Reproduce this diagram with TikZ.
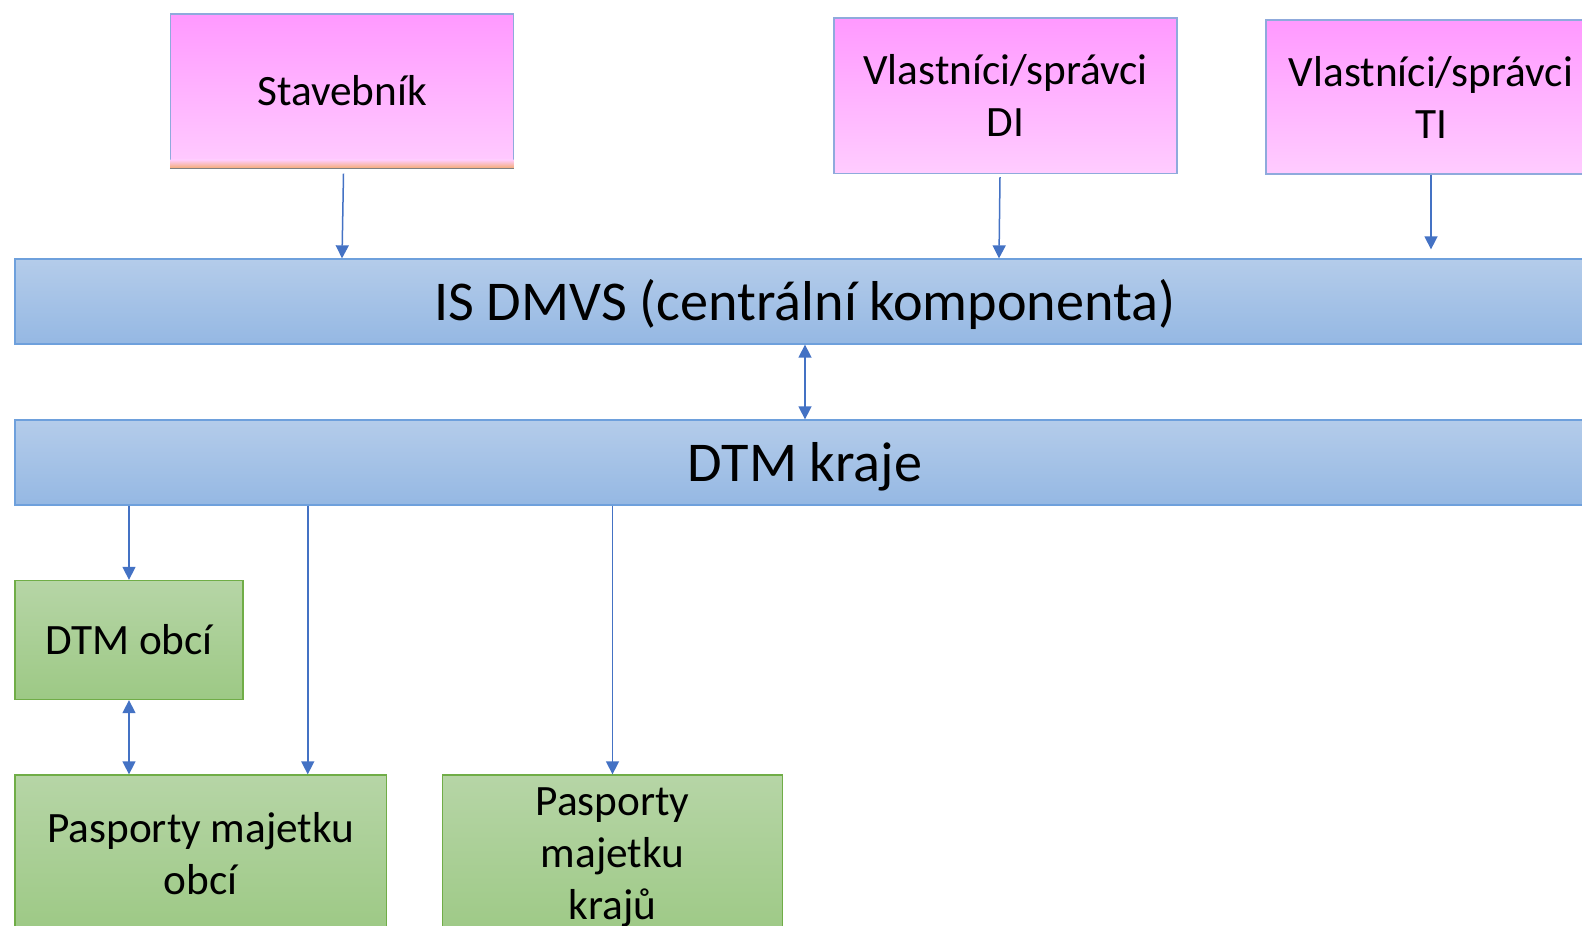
\documentclass[tikz,border=0pt]{standalone}
\usepackage{fontspec}
\setmainfont{Carlito}
\usetikzlibrary{arrows.meta}

\definecolor{pinktop}{RGB}{255,153,255}
\definecolor{pinkbot}{RGB}{255,204,255}
\definecolor{stavorange}{RGB}{244,170,110}
\definecolor{pinkline}{RGB}{143,170,220}
\definecolor{bartop}{RGB}{180,204,234}
\definecolor{barbot}{RGB}{149,184,227}
\definecolor{barline}{RGB}{110,160,220}
\definecolor{greentop}{RGB}{182,213,166}
\definecolor{greenbot}{RGB}{157,201,133}
\definecolor{greenline}{RGB}{112,173,71}
\definecolor{arrowblue}{RGB}{68,114,196}

\begin{document}
\begin{tikzpicture}
      [
        x=1pt, y=-1pt,
        pinkbox/.style={draw=pinkline, line width=1.3pt, top color=pinktop,
          bottom color=pinkbot, minimum width=343pt, minimum height=154pt,
          inner sep=0pt, align=center, font=\fontsize{43.3}{52}\selectfont},
        bluebar/.style={draw=barline, line width=1.3pt, top color=bartop,
          bottom color=barbot, minimum width=1580pt, minimum height=85pt,
          inner sep=0pt, text height=52pt, text depth=14pt,
          font=\fontsize{56.2}{67}\selectfont},
        greenbox/.style={draw=greenline, line width=1.3pt, top color=greentop,
          bottom color=greenbot, inner sep=0pt, align=center,
          font=\fontsize{43.3}{52}\selectfont},
        link/.style={draw=arrowblue, line width=1.5pt,
          -{Triangle[width=13pt,length=13pt]}},
        bothlink/.style={link, {Triangle[width=13pt,length=13pt]}-{Triangle[width=13pt,length=13pt]}}
      ]
      \useasboundingbox (0,0) rectangle (1582,926);
      \clip (0,0) rectangle (1582,926);
      % sources
      \node [pinkbox] (stav) at (342,91)  {Stavebník};
      \fill [top color=pinkbot, bottom color=stavorange]
        ([xshift=0.7pt,yshift=9pt]stav.south west) rectangle ([xshift=-0.7pt]stav.south east);
      \draw [gray, line width=1.3pt] (stav.south west) -- (stav.south east);
      \node [pinkbox, minimum height=155.5pt] (vdi) at (1005.5,95.75) {Vlastníci/správci\\DI};
      \node [pinkbox, minimum width=330pt] (vti) at (1431,97) {Vlastníci/správci\\TI};
      % bars
      \node [bluebar] (dmvs)  at (805,301.5) {IS DMVS (centrální komponenta)};
      \node [bluebar] (kraje) at (805,462.5) {DTM kraje};
      % lower boxes
      \node [greenbox, minimum width=228pt, minimum height=119pt] (dtmobci) at (129,640) {DTM obcí};
      \node [greenbox, minimum width=371.5pt, minimum height=157pt] (pasobci) at (200.75,853.5)
        {Pasporty majetku\\obcí};
      \node [greenbox, minimum width=339.5pt, minimum height=165pt] (paskraje) at (612.5,857.5)
        {Pasporty\\majetku\\krajů};
      \coordinate (dropobci) at ([xshift=107pt]pasobci.north);
      % arrows
      \draw [link] ([xshift=1.5pt,yshift=-5pt]stav.south) -- (stav.south |- dmvs.north);
      \draw [link] ([xshift=-5.5pt,yshift=-3pt]vdi.south) -- ([xshift=-6.5pt]vdi.south |- dmvs.north);
      \draw [link] (vti.south) -- ([yshift=9pt]vti.south |- dmvs.north);
      \draw [bothlink] (dmvs.south) -- (kraje.north);
      \draw [link] (dtmobci.north |- kraje.south) -- (dtmobci.north);
      \draw [link] (dropobci |- kraje.south) -- (dropobci);
      \draw [link] (paskraje.north |- kraje.south) -- (paskraje.north);
      \draw [bothlink] (dtmobci.south) -- (dtmobci.south |- pasobci.north);
\end{tikzpicture}
\end{document}
